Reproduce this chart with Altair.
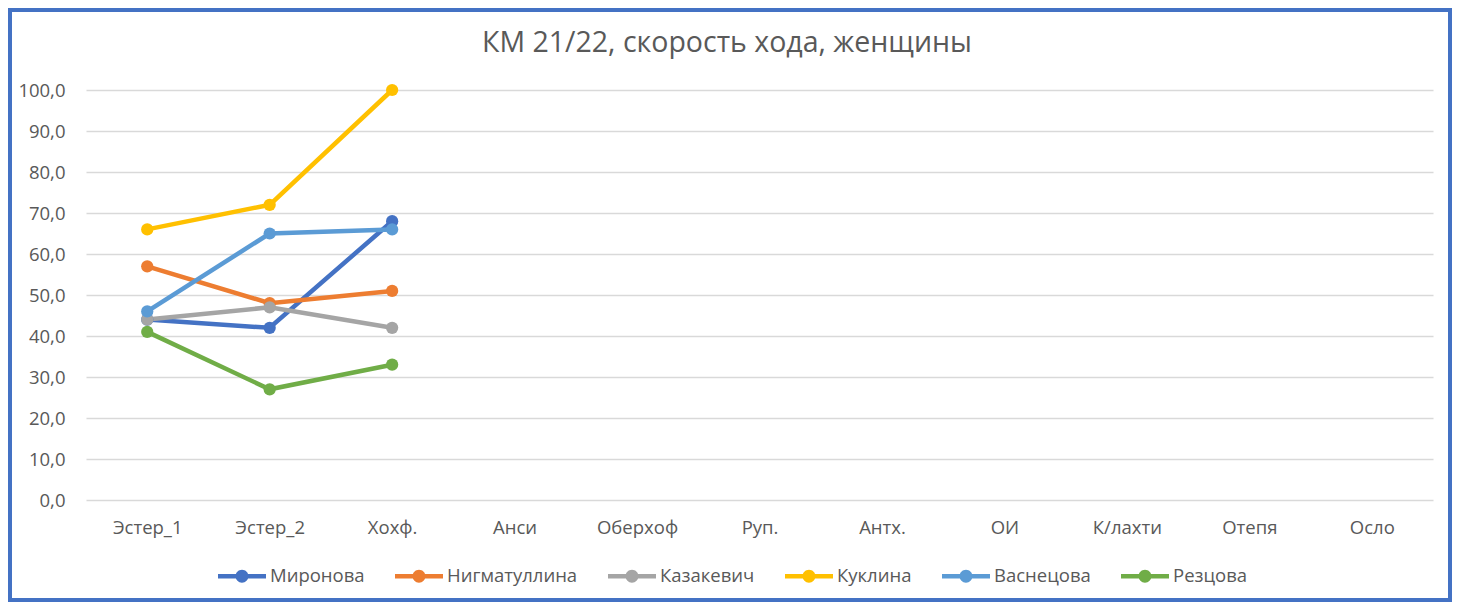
import altair as alt
import pandas as pd

categories = ["Эстер_1", "Эстер_2", "Хохф.", "Анси", "Оберхоф", "Руп.", "Антх.", "ОИ", "К/лахти", "Отепя", "Осло"]
series_names = ["Миронова", "Нигматуллина", "Казакевич", "Куклина", "Васнецова", "Резцова"]
colors = ["#4472C4", "#ED7D31", "#A5A5A5", "#FFC000", "#5B9BD5", "#70AD47"]
title_text = "КМ 21/22, скорость хода, женщины"

mironova = [44, 42, 68]
nigmatullina = [57, 48, 51]
kazakevich = [44, 47, 42]
kuklina = [66, 72, 100]
vasnetsova = [46, 65, 66]
reztsova = [41, 27, 33]

all_values = [mironova, nigmatullina, kazakevich, kuklina, vasnetsova, reztsova]
rows = []
for name, vals in zip(series_names, all_values):
    for cat, v in zip(categories, vals):
        rows.append({"stage": cat, "athlete": name, "speed": v})
df = pd.DataFrame(rows)

W, H = 1347, 410
FONT = "Open Sans"
GREY = "#595959"
FS = 18.5

x_enc = alt.X("stage:N", sort=categories,
              scale=alt.Scale(domain=categories, type="point", padding=0.5),
              axis=alt.Axis(title=None, labelFontSize=FS, labelColor=GREY, labelFont=FONT,
                            ticks=False, domain=False, grid=False, labelPadding=18, labelAngle=0))
y_enc = alt.Y("speed:Q", scale=alt.Scale(domain=[0, 100]),
              axis=alt.Axis(title=None, values=list(range(0, 101, 10)),
                            labelExpr="replace(format(datum.value, '.1f'), '.', ',')",
                            labelFontSize=FS, labelColor=GREY, labelFont=FONT,
                            ticks=False, domain=False, gridColor="#D9D9D9", gridWidth=1.3,
                            labelPadding=21))
color_enc = alt.Color("athlete:N", sort=series_names,
                      scale=alt.Scale(domain=series_names, range=colors),
                      legend=alt.Legend(title=None, orient="none", direction="horizontal",
                                        legendX=132, legendY=462,
                                        symbolType="M-1,-0.09 H1 V0.09 H-1 Z M0.27,0 A0.27,0.27 0 1,1 -0.27,0 A0.27,0.27 0 1,1 0.27,0 Z",
                                        symbolSize=2304, symbolStrokeWidth=0,
                                        labelFontSize=FS, labelColor=GREY, labelFont=FONT,
                                        labelOffset=4, columnPadding=30))

base = alt.Chart(df)
lines = base.mark_line(strokeWidth=4.5).encode(x=x_enc, y=y_enc, color=color_enc)
points = base.mark_circle(size=150, opacity=1).encode(x=x_enc, y=y_enc, color=color_enc)

title = alt.Chart(pd.DataFrame({"t": [title_text]})).mark_text(
    font=FONT, fontSize=28.5, color=GREY, align="center", baseline="alphabetic"
).encode(text="t:N", x=alt.value(641), y=alt.value(-38))

border = alt.Chart(pd.DataFrame({"a": [0]})).mark_rect(
    filled=False, stroke="#4472C4", strokeWidth=4, clip=False
).encode(x=alt.value(-76), x2=alt.value(W + 17), y=alt.value(-80), y2=alt.value(H + 100))

chart = alt.layer(lines, points, title, border).properties(
    width=W, height=H,
    background="white",
    autosize=alt.AutoSizeParams(type="none"),
    padding={"left": 78, "top": 82, "right": 19, "bottom": 102},
).configure_view(stroke=None)

chart.save("out.html", embed_options={"renderer": "svg", "actions": False})
